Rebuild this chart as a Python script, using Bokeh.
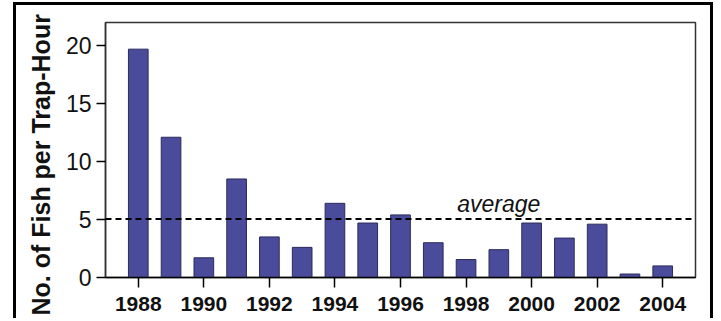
from bokeh.plotting import figure
from bokeh.models import Span, Label, FixedTicker, Range1d, Title
from bokeh.embed import file_html
from bokeh.resources import INLINE

years = [1988, 1989, 1990, 1991, 1992, 1993, 1994, 1995, 1996, 1997,
         1998, 1999, 2000, 2001, 2002, 2003, 2004]
fish_per_trap_hour = [19.7, 12.1, 1.7, 8.5, 3.5, 2.6, 6.4, 4.7, 5.4, 3.0,
                      1.55, 2.4, 4.7, 3.4, 4.6, 0.3, 1.0]
average_value = 5.05
x_ticks = [1988, 1990, 1992, 1994, 1996, 1998, 2000, 2002, 2004]
y_ticks = [0, 5, 10, 15, 20]
y_label = "No. of Fish per Trap-Hour"
avg_label = "average"

FONT = "Liberation Sans"

p = figure(width=700, height=316, output_backend="svg", toolbar_location=None,
           x_range=Range1d(1987, 2005), y_range=Range1d(0, 22),
           min_border_left=88, min_border_right=21, min_border_top=17,
           min_border_bottom=44)
p.styles = {"margin-left": "13px", "margin-top": "2px",
            "border-top": "3px solid black", "border-left": "3px solid black",
            "border-right": "3px solid black"}
p.grid.visible = False
p.background_fill_color = "white"
p.border_fill_color = "white"
p.outline_line_color = "#333333"
p.outline_line_width = 1.5

p.vbar(x=years, top=fish_per_trap_hour, width=0.6, bottom=0,
       fill_color="#4b4b9b", line_color="#2b2b5b", line_width=1)

p.add_layout(Span(location=average_value, dimension="width",
                  line_color="black", line_width=2, line_dash="6 4"))

p.add_layout(Label(x=1999, y=6.3, text=avg_label, text_font=FONT,
                   text_font_style="italic", text_font_size="23px",
                   text_align="center", text_baseline="alphabetic",
                   text_color="#111111"))

# x axis
xa = p.xaxis[0]
xa.ticker = FixedTicker(ticks=x_ticks)
xa.major_tick_out = 10
xa.major_tick_in = 0
xa.minor_tick_line_color = None
xa.major_tick_line_width = 1.5
xa.axis_line_width = 1.5
xa.axis_line_color = "black"
xa.major_label_text_font = FONT
xa.major_label_text_font_style = "bold"
xa.major_label_text_font_size = "21px"
xa.major_label_text_color = "#111111"
xa.major_label_standoff = 9

# y axis
ya = p.yaxis[0]
ya.ticker = FixedTicker(ticks=y_ticks)
ya.major_tick_out = 9
ya.major_tick_in = 0
ya.minor_tick_line_color = None
ya.major_tick_line_width = 1.5
ya.axis_line_width = 1.5
ya.axis_line_color = "#333333"
ya.major_label_text_font = FONT
ya.major_label_text_font_size = "23px"
ya.major_label_text_color = "#111111"
ya.major_label_standoff = 5

p.add_layout(Title(text=y_label, text_font=FONT, text_font_style="bold",
                   text_font_size="25px", align="left", offset=-38,
                   standoff=16, text_color="#111111"), "left")

open("out.html", "w").write(file_html(p, INLINE))
